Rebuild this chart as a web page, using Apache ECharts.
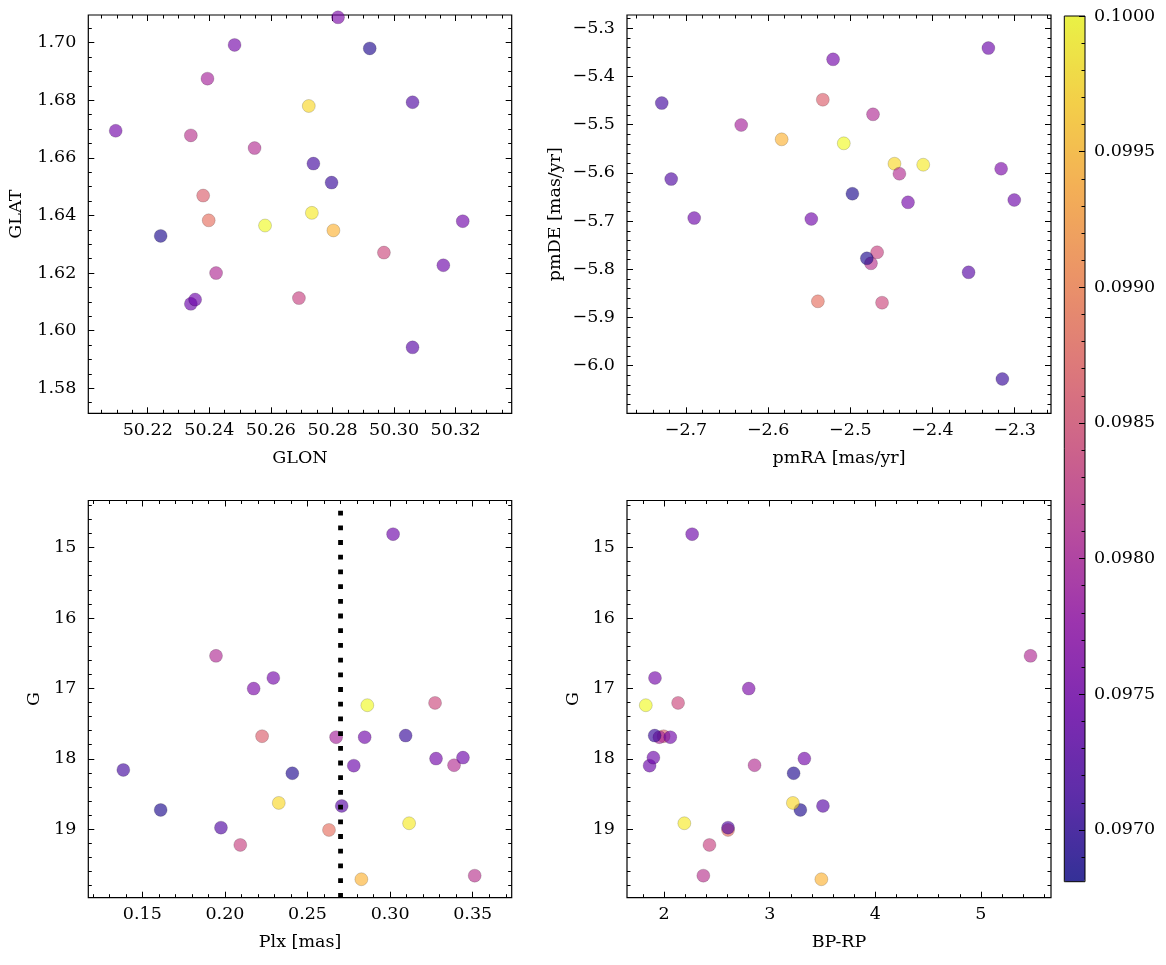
<!DOCTYPE html>
<html><head><meta charset="utf-8">
<script src="https://cdn.jsdelivr.net/npm/echarts@6/dist/echarts.min.js"></script>
<style>html,body{margin:0;padding:0;background:#fff}#c{width:1166px;height:965px}</style>
</head><body><div id="c"></div>
<script>
// ---- data (one entry per star, same order in every array) ----
const glon = [50.2398,50.2380,50.2394,50.2340,50.2340,50.2738,50.2242,50.2422,50.3060,50.2691,50.2818,50.2482,50.2723,50.2921,50.3060,50.2803,50.3223,50.2581,50.2354,50.2797,50.2733,50.2967,50.2096,50.2547,50.3160];
const glat = [1.6383,1.6469,1.6875,1.6678,1.6093,1.6580,1.6329,1.6200,1.6793,1.6113,1.7088,1.6992,1.6780,1.6980,1.5942,1.6348,1.6380,1.6365,1.6108,1.6514,1.6409,1.6271,1.6694,1.6634,1.6227];
const pmra = [-2.5395,-2.5335,-2.6328,-2.4749,-2.3320,-2.7295,-2.4975,-2.4724,-2.7180,-2.4674,-2.3165,-2.4298,-2.4463,-2.4799,-2.3561,-2.5836,-2.5475,-2.5080,-2.6900,-2.3150,-2.4113,-2.4614,-2.5210,-2.4403,-2.3005];
const pmde = [-5.8664,-5.4481,-5.5006,-5.7876,-5.3409,-5.4550,-5.6432,-5.4784,-5.6127,-5.7647,-5.5913,-5.6610,-5.5809,-5.7772,-5.8062,-5.5303,-5.6956,-5.5386,-5.6936,-6.0276,-5.5830,-5.8693,-5.3643,-5.6017,-5.6562];
const plx  = [0.2630,0.2225,0.2673,0.3512,0.2780,0.1385,0.1611,0.1946,0.1976,0.2093,0.2174,0.2293,0.2326,0.2408,0.2707,0.2826,0.2846,0.2862,0.3018,0.3094,0.3115,0.3272,0.3278,0.3387,0.3441];
const gmag = [19.010,17.679,17.693,19.659,18.097,18.158,18.726,16.538,18.977,19.223,17.003,16.851,18.626,18.205,18.669,19.710,17.693,17.239,14.810,17.670,18.915,17.206,17.997,18.091,17.983];
const bprp = [2.605,1.995,1.955,2.371,1.862,null,3.290,5.470,2.605,2.429,2.801,1.913,3.219,3.226,3.504,3.489,2.058,1.826,2.265,1.910,2.191,2.132,3.328,2.856,1.898];
const colorVal = [0.09880,0.09862,0.09795,0.09815,0.09742,0.09712,0.09688,0.09805,0.09722,0.09832,0.09758,0.09752,0.09975,0.09690,0.09728,0.09945,0.09748,0.10000,0.09745,0.09705,0.09988,0.09838,0.09750,0.09808,0.09746];
const plxCut = 0.27;

// ---- axis ranges and tick labels ----
const glonRange = [50.2007, 50.3382], glatRange = [1.5713, 1.7096];
const pmraRange = [-2.7718, -2.2558], pmdeRange = [-6.0988, -5.2723];
const plxRange  = [0.1173, 0.3736],   gRange    = [14.332, 19.972];
const bprpRange = [1.648, 5.664];
const cbarRange = [0.096809, 0.1000];
const glonTicks = [50.22, 50.24, 50.26, 50.28, 50.30, 50.32];
const glatTicks = [1.58, 1.60, 1.62, 1.64, 1.66, 1.68, 1.70];
const pmraTicks = [-2.7, -2.6, -2.5, -2.4, -2.3];
const pmdeTicks = [-6.0, -5.9, -5.8, -5.7, -5.6, -5.5, -5.4, -5.3];
const plxTicks  = [0.15, 0.20, 0.25, 0.30, 0.35];
const gTicks    = [15, 16, 17, 18, 19];
const bprpTicks = [2, 3, 4, 5];
const cbarTicks = [0.0970, 0.0975, 0.0980, 0.0985, 0.0990, 0.0995, 0.1000];

// plasma colormap (alpha 0.8)
const plasma = ['#0d0887','#41049d','#6a00a8','#8f0da4','#b12a90','#cc4778','#e16462','#f2844b','#fca636','#fcce25','#f0f921']
  .map(h => `rgba(${parseInt(h.slice(1,3),16)},${parseInt(h.slice(3,5),16)},${parseInt(h.slice(5,7),16)},0.8)`);

const FONT = 'DejaVu Serif', FS = 17.5;
const fmt = d => v => Number(v).toFixed(d).replace('-', '\u2212');
function minorList(rng, step, majors) {
  const out = [];
  const s = Math.ceil(rng[0] / step - 1e-9), e = Math.floor(rng[1] / step + 1e-9);
  for (let k = s; k <= e; k++) {
    const v = +(k * step).toFixed(10);
    if (!majors.some(m => Math.abs(m - v) < step * 1e-3)) out.push(v);
  }
  return out;
}

const grids = [
  {left: 88.3, top: 15, width: 423.4, height: 398.3},
  {left: 627, top: 15, width: 424, height: 398.3},
  {left: 88.3, top: 500.5, width: 423.4, height: 397.2},
  {left: 627, top: 500.5, width: 424, height: 397.2}
];
const panels = [
  {x: {rng: glonRange, ticks: glonTicks, minor: 0.005, dec: 2, name: 'GLON'},
   y: {rng: glatRange, ticks: glatTicks, minor: 0.005, dec: 2, name: 'GLAT', gap: 63}, xs: glon, ys: glat},
  {x: {rng: pmraRange, ticks: pmraTicks, minor: 0.02, dec: 1, name: 'pmRA [mas/yr]'},
   y: {rng: pmdeRange, ticks: pmdeTicks, minor: 0.02, dec: 1, name: 'pmDE [mas/yr]', gap: 63}, xs: pmra, ys: pmde},
  {x: {rng: plxRange, ticks: plxTicks, minor: 0.01, dec: 2, name: 'Plx [mas]'},
   y: {rng: gRange, ticks: gTicks, minor: 0.2, dec: 0, name: 'G', gap: 45, inverse: true}, xs: plx, ys: gmag},
  {x: {rng: bprpRange, ticks: bprpTicks, minor: 0.2, dec: 0, name: 'BP-RP'},
   y: {rng: gRange, ticks: gTicks, minor: 0.2, dec: 0, name: 'G', gap: 45, inverse: true}, xs: bprp, ys: gmag}
];

const txt = {fontFamily: FONT, fontSize: FS, color: '#000'};
function mkAxis(gi, pos, a, major, labels, isY) {
  const minors = minorList(a.rng, a.minor, a.ticks);
  return {
    type: 'value', gridIndex: gi, position: pos, min: a.rng[0], max: a.rng[1], inverse: !!a.inverse,
    axisLine: {show: false, onZero: false}, splitLine: {show: false},
    axisTick: {show: true, inside: true, length: major ? 6 : 3.5, lineStyle: {color: '#000', width: 1},
               customValues: major ? a.ticks : minors},
    axisLabel: Object.assign({show: labels, customValues: a.ticks, formatter: fmt(a.dec), margin: isY ? 12 : 8}, txt),
    name: labels ? a.name : '', nameLocation: 'middle', nameGap: isY ? a.gap : 36,
    nameTextStyle: txt, silent: true
  };
}

const xAxes = [], yAxes = [], series = [];
panels.forEach((p, gi) => {
  xAxes.push(mkAxis(gi, 'bottom', p.x, true, true, false), mkAxis(gi, 'bottom', p.x, false, false, false),
             mkAxis(gi, 'top', p.x, true, false, false), mkAxis(gi, 'top', p.x, false, false, false));
  yAxes.push(mkAxis(gi, 'left', p.y, true, true, true), mkAxis(gi, 'left', p.y, false, false, true),
             mkAxis(gi, 'right', p.y, true, false, true), mkAxis(gi, 'right', p.y, false, false, true));
  series.push({
    type: 'scatter', xAxisIndex: gi * 4, yAxisIndex: gi * 4, symbolSize: 13,
    itemStyle: {borderColor: 'rgba(0,0,0,0.4)', borderWidth: 0.5},
    data: p.xs.map((v, i) => [v, p.ys[i], colorVal[i]]).filter(d => d[0] !== null), silent: true
  });
});
// dotted parallax cut
series.push({
  type: 'line', xAxisIndex: 8, yAxisIndex: 8, symbol: 'none', silent: true, z: 5,
  data: [[plxCut, gRange[1]], [plxCut, gRange[0]]],
  lineStyle: {color: '#000', width: 4.8, type: [4.8, 9.9], cap: 'butt'}
});

// colorbar axes (grid 4)
const cbGrid = {left: 1064.3, top: 16, width: 20.7, height: 865.7, show: true, borderColor: '#000', borderWidth: 1,
                backgroundColor: 'transparent', z: 5};
xAxes.push({type: 'value', gridIndex: 4, min: 0, max: 1, show: false});
const cbMinors = minorList(cbarRange, 0.0001, cbarTicks);
yAxes.push({
  type: 'value', gridIndex: 4, position: 'right', min: cbarRange[0], max: cbarRange[1], z: 5,
  axisLine: {show: false, onZero: false}, splitLine: {show: false},
  axisTick: {show: true, inside: true, length: 6, lineStyle: {color: '#000', width: 1}, customValues: cbarTicks},
  axisLabel: Object.assign({show: true, customValues: cbarTicks, formatter: fmt(4), margin: 9}, txt), silent: true
}, {
  type: 'value', gridIndex: 4, position: 'right', min: cbarRange[0], max: cbarRange[1], z: 5,
  axisLine: {show: false, onZero: false}, splitLine: {show: false},
  axisTick: {show: true, inside: true, length: 3.5, lineStyle: {color: '#000', width: 1}, customValues: cbMinors},
  axisLabel: {show: false}, silent: true
});

const option = {
  animation: false,
  backgroundColor: '#fff',
  grid: grids.map(g => Object.assign({show: true, borderColor: '#000', borderWidth: 1.2, backgroundColor: 'transparent',
                                      containLabel: false, outerBoundsMode: 'none'}, g)).concat([cbGrid]),
  xAxis: xAxes, yAxis: yAxes,
  visualMap: {
    type: 'continuous', min: cbarRange[0], max: cbarRange[1], dimension: 2, seriesIndex: [0, 1, 2, 3],
    orient: 'vertical', left: 1064.3, top: 16, itemWidth: 20.7, itemHeight: 865.7,
    calculable: false, hoverLink: false, padding: 0, z: 1,
    inRange: {color: plasma}
  },
  series: series
};
const chart = echarts.init(document.getElementById('c'), null, {renderer: 'canvas'});
chart.setOption(option);
</script></body></html>
